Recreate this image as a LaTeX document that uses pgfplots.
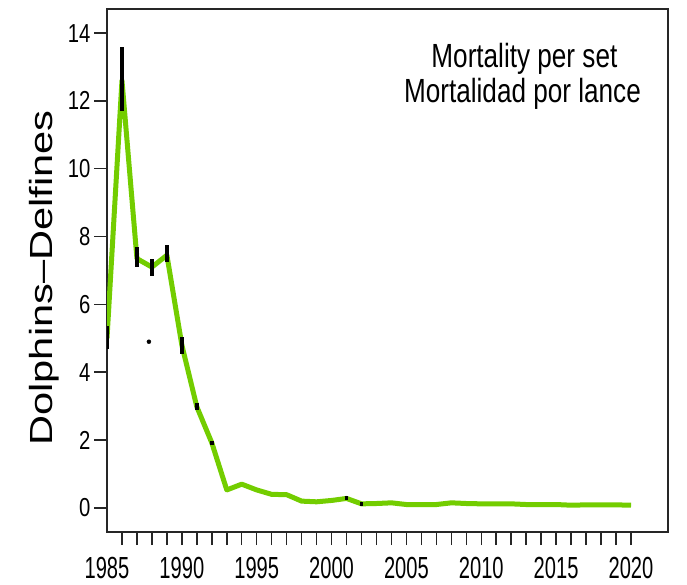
\documentclass[border=0pt]{standalone}
\usepackage{pgfplots}
\usepackage{pgfplotstable}
\pgfplotsset{compat=1.18}
\usepackage{fontspec}
\setmainfont{Liberation Sans}
\newfontfamily\narrowfont[FakeStretch=0.78]{Liberation Sans}
\newfontfamily\xnarrowfont[FakeStretch=0.66]{Liberation Sans}
\newfontfamily\wideFont[FakeStretch=1.3]{Liberation Sans}
\definecolor{lgreen}{RGB}{115,205,0}
\pgfplotstableread{
year y ep em
1985 5.00 0.35 0.30
1986 12.60 1.00 0.90
1987 7.35 0.35 0.25
1988 7.10 0.25 0.25
1989 7.45 0.30 0.20
1990 4.80 0.25 0.25
1991 2.98 0.10 0.10
1992 1.92 0.06 0.06
1993 0.53 0 0
1994 0.70 0 0
1995 0.53 0 0
1996 0.40 0 0
1997 0.39 0 0
1998 0.20 0 0
1999 0.18 0 0
2000 0.22 0 0
2001 0.28 0.06 0.06
2002 0.12 0.06 0.06
2003 0.13 0 0
2004 0.15 0 0
2005 0.10 0 0
2006 0.10 0 0
2007 0.10 0 0
2008 0.15 0 0
2009 0.13 0 0
2010 0.12 0 0
2011 0.12 0 0
2012 0.12 0 0
2013 0.10 0 0
2014 0.10 0 0
2015 0.10 0 0
2016 0.08 0 0
2017 0.09 0 0
2018 0.09 0 0
2019 0.09 0 0
2020 0.08 0 0
}\mortality
\begin{document}
\begin{tikzpicture}
\path[use as bounding box] (0,0) rectangle (687pt,585pt);
\begin{axis}[
  at={(107pt,53pt)}, anchor=south west,
  scale only axis, width=561pt, height=523pt,
  xmin=1985, xmax=2022.47, ymin=-0.71, ymax=14.71,
  axis line style={line width=1.6pt, black!85},
  tick align=outside, xtick pos=bottom, ytick pos=left,
  major tick length=13pt,
  tick style={line width=1.5pt, black!85},
  ytick={0,2,...,14},
  xtick={1986,...,2020},
  xticklabels={,,,,1990,,,,,1995,,,,,2000,,,,,2005,,,,,2010,,,,,2015,,,,,2020},
  extra x ticks={1985}, extra x tick labels={1985},
  extra x tick style={tick style={draw=none}},
  /pgf/number format/assume math mode=true,
  /pgf/number format/1000 sep={},
  yticklabel style={font=\narrowfont\fontsize{26}{26}\selectfont},
  xticklabel style={font=\xnarrowfont\fontsize{30.5}{30.5}\selectfont, yshift=-9pt},
  ylabel={Dolphins–Delfines},
  ylabel style={font=\wideFont\fontsize{32}{32}\selectfont, at={(axis description cs:-0.098,0.4857)}, anchor=base},
]
\addplot[lgreen, line width=5pt, line join=round] table[x=year, y=y] {\mortality};
\addplot[draw=none, mark=none, error bars/.cd, y dir=both, y explicit,
  error mark=none, error bar style={line width=3.6pt, black}]
  table[x=year, y=y, y error plus=ep, y error minus=em] {\mortality};
\addplot[only marks, mark=*, mark size=2pt, black] coordinates {(1987.8,4.9)};
\node[anchor=base, font=\narrowfont\fontsize{33.5}{40}\selectfont] at (axis description cs:0.744,0.889) {Mortality per set};
\node[anchor=base, font=\narrowfont\fontsize{33.5}{40}\selectfont] at (axis description cs:0.7406,0.822) {Mortalidad por lance};
\end{axis}
\end{tikzpicture}
\end{document}
